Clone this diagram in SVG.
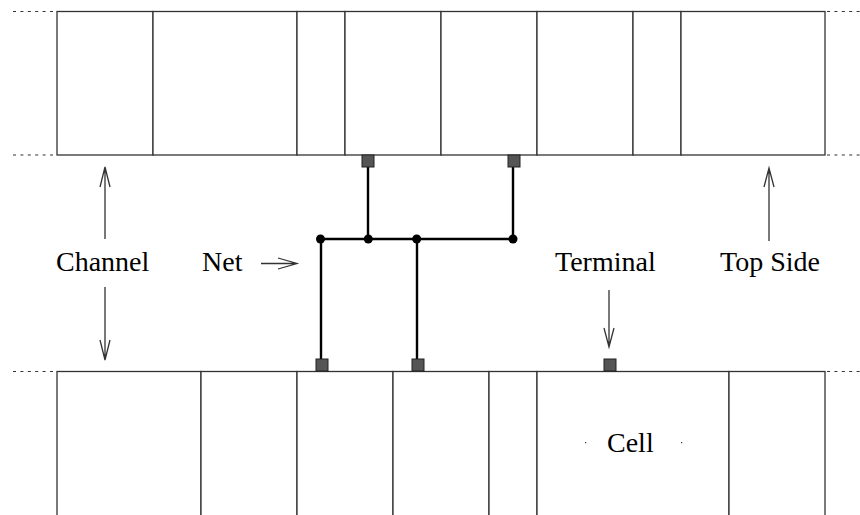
<svg xmlns="http://www.w3.org/2000/svg" width="860" height="515" viewBox="0 0 860 515">
<defs>
<style>
.cell{fill:#fff;stroke:#333;stroke-width:1.3}
.dot{stroke:#333;stroke-width:1.2;stroke-dasharray:3 4.4;fill:none}
.wire{stroke:#000;stroke-width:2.4;fill:none}
.junc{fill:#000}
.term{fill:#555;stroke:#222;stroke-width:1}
.arr{stroke:#333;stroke-width:1.3;fill:none}
.lbl{font-family:"Liberation Serif","Times New Roman",serif;font-size:28px;fill:#000}
</style>
</defs>
<rect width="860" height="515" fill="#fff"/>
<g id="boundaries">
<line class="dot" x1="13" y1="11.5" x2="56" y2="11.5"/>
<line class="dot" x1="13" y1="155" x2="56" y2="155"/>
<line class="dot" x1="827" y1="11.5" x2="860" y2="11.5"/>
<line class="dot" x1="827" y1="155" x2="860" y2="155"/>
<line class="dot" x1="13" y1="371.5" x2="56" y2="371.5"/>
<line class="dot" x1="827" y1="371.5" x2="860" y2="371.5"/>
</g>
<g id="top-cells">
<rect id="t1" class="cell" x="57" y="11.5" width="96" height="143.5"/>
<rect id="t2" class="cell" x="153" y="11.5" width="144" height="143.5"/>
<rect id="t3" class="cell" x="297" y="11.5" width="48" height="143.5"/>
<rect id="t4" class="cell" x="345" y="11.5" width="96" height="143.5"/>
<rect id="t5" class="cell" x="441" y="11.5" width="96" height="143.5"/>
<rect id="t6" class="cell" x="537" y="11.5" width="96" height="143.5"/>
<rect id="t7" class="cell" x="633" y="11.5" width="48" height="143.5"/>
<rect id="t8" class="cell" x="681" y="11.5" width="144" height="143.5"/>
</g>
<g id="bottom-cells">
<rect id="b1" class="cell" x="57" y="371.5" width="144" height="160"/>
<rect id="b2" class="cell" x="201" y="371.5" width="96" height="160"/>
<rect id="b3" class="cell" x="297" y="371.5" width="96" height="160"/>
<rect id="b4" class="cell" x="393" y="371.5" width="96" height="160"/>
<rect id="b5" class="cell" x="489" y="371.5" width="48" height="160"/>
<rect id="b6" class="cell" x="537" y="371.5" width="192" height="160"/>
<rect id="b7" class="cell" x="729" y="371.5" width="96" height="160"/>
</g>
<g id="connectors">
<polyline class="wire" points="368,167 368,239"/>
<polyline class="wire" points="513,167 513,239"/>
<polyline class="wire" points="320,239 513,239"/>
<polyline class="wire" points="321,239 321,359"/>
<polyline class="wire" points="417,239 417,359"/>
<circle class="junc" cx="320.5" cy="239" r="4.5"/>
<circle class="junc" cx="368.3" cy="239" r="4.5"/>
<circle class="junc" cx="416.7" cy="239" r="4.5"/>
<circle class="junc" cx="513" cy="239" r="4.5"/>
</g>
<g id="terminals">
<rect class="term" x="362" y="155" width="12" height="12"/>
<rect class="term" x="508" y="155" width="12" height="12"/>
<rect class="term" x="316" y="359" width="12" height="12"/>
<rect class="term" x="412" y="359" width="12" height="12"/>
<rect class="term" x="604" y="359" width="12" height="12"/>
</g>
<g id="arrows">
<path class="arr" d="M105,239 V167 M100,187 L105,167 L110,187"/>
<path class="arr" d="M105,287 V360 M100,340 L105,360 L110,340"/>
<path class="arr" d="M261,263.5 H297 M278,258 L297,263.5 L278,269"/>
<path class="arr" d="M609,290 V347 M604,328 L609,347 L614,328"/>
<path class="arr" d="M769,241 V168 M764,187 L769,168 L774,187"/>
</g>
<g id="labels">
<text class="lbl" x="56" y="271">Channel</text>
<text class="lbl" x="202" y="271">Net</text>
<text class="lbl" x="555" y="271">Terminal</text>
<text class="lbl" x="720" y="271">Top Side</text>
<text class="lbl" x="607" y="452">Cell</text>
<circle cx="585.7" cy="442.7" r="0.6" fill="#000"/>
<circle cx="681.7" cy="442.7" r="0.6" fill="#000"/>
</g>
</svg>
